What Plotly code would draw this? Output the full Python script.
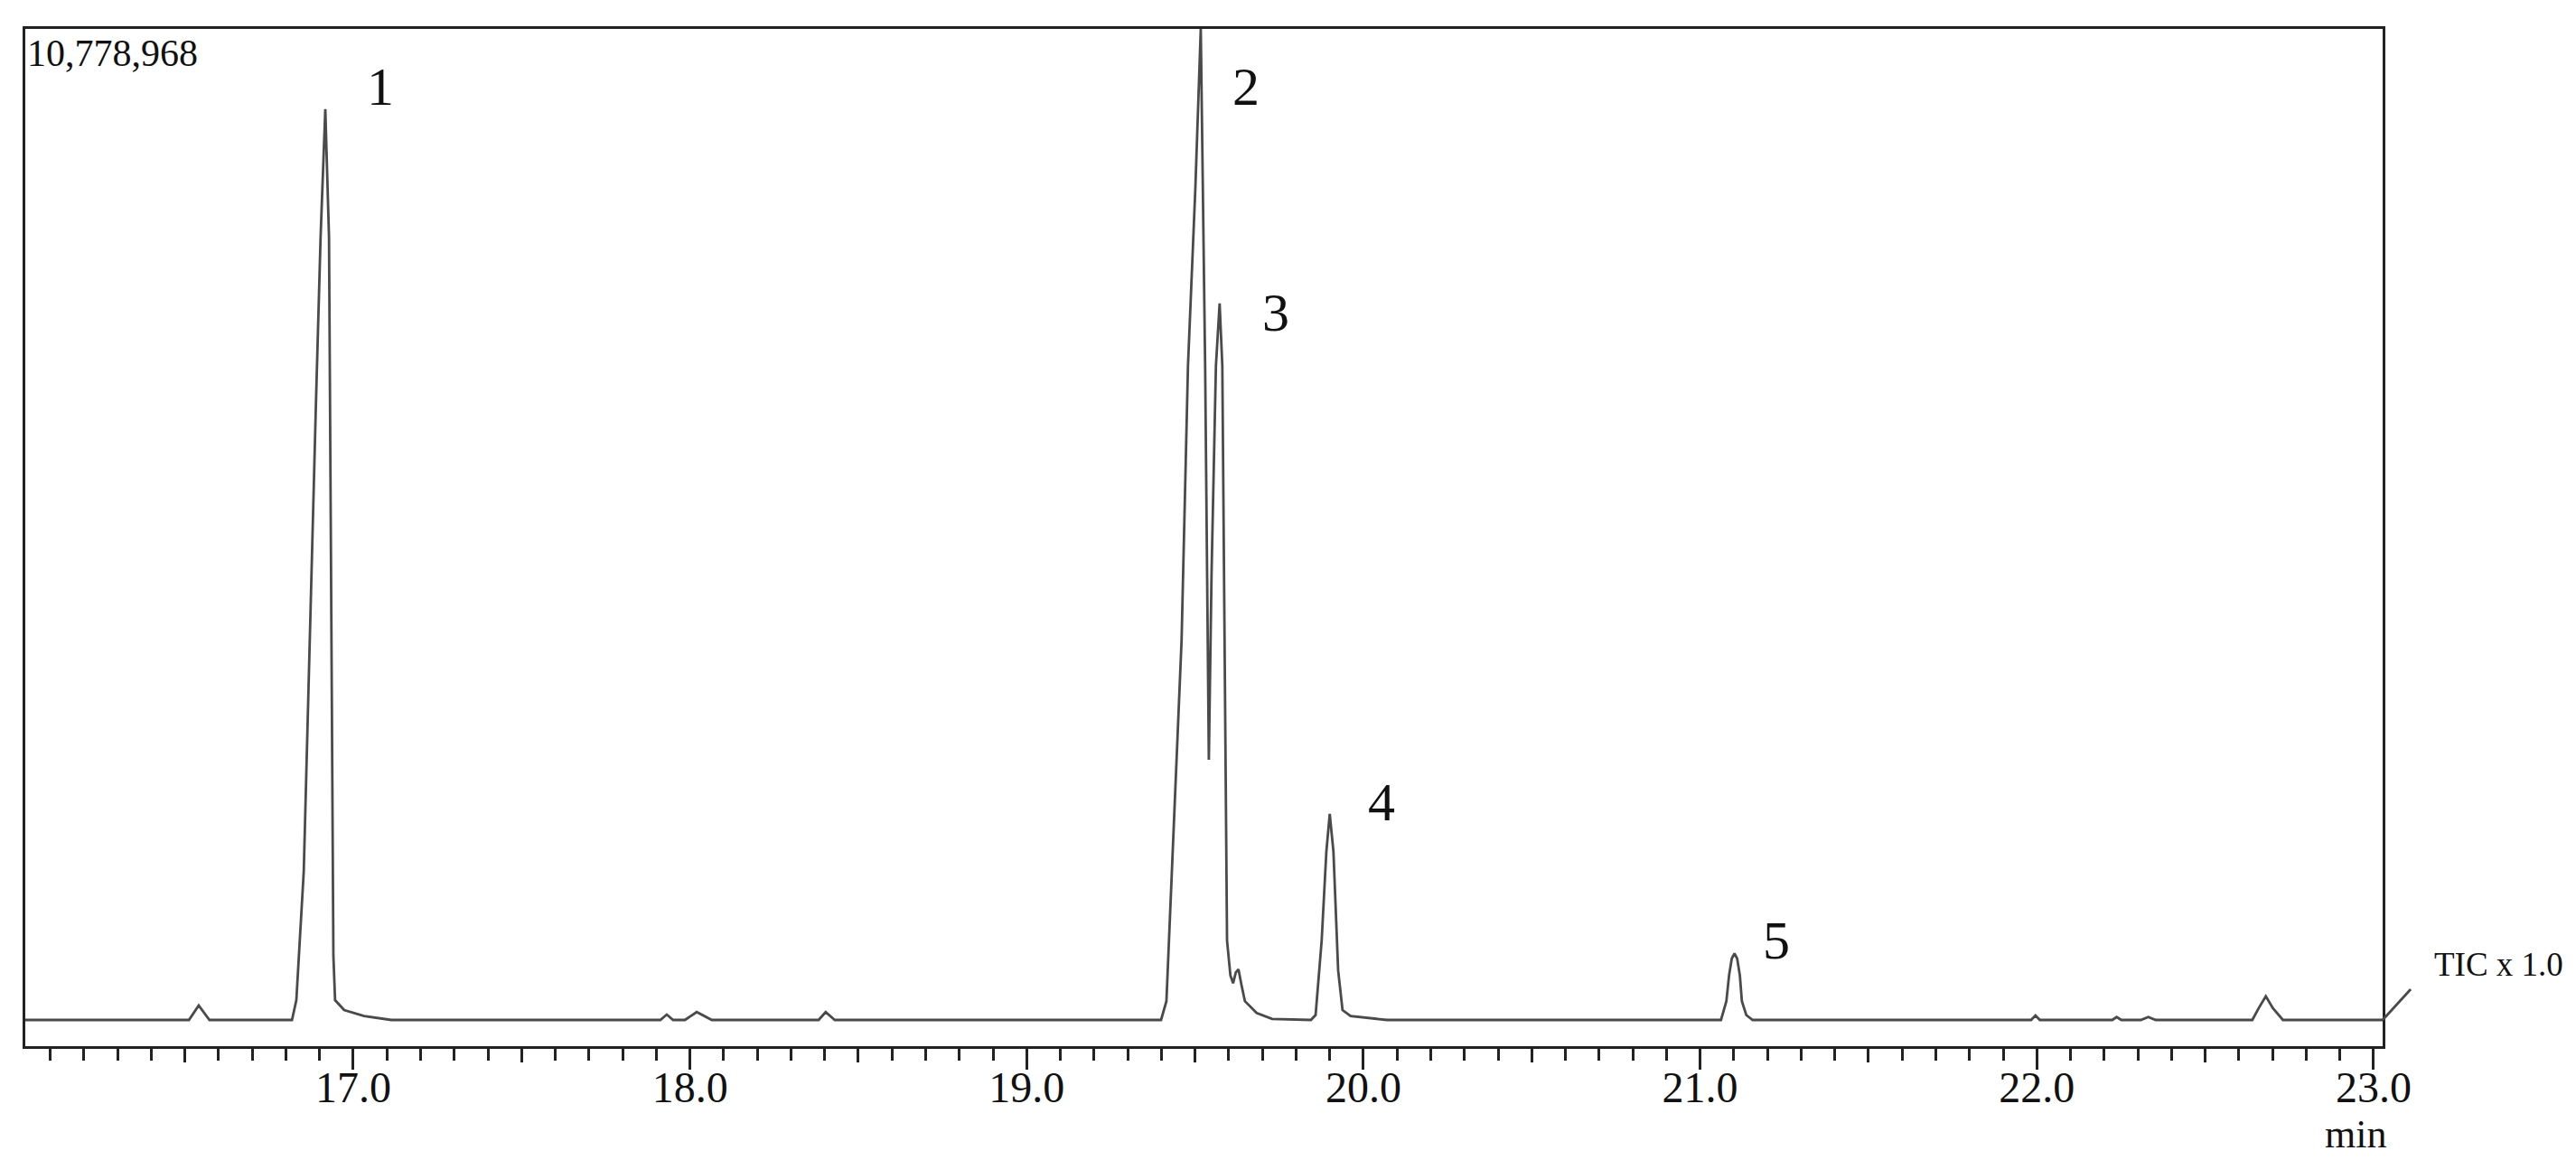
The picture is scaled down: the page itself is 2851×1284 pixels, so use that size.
import plotly.graph_objects as go

# full-scale value printed in the corner of the chromatogram
full_scale = 10778968

# retention time (min) and TIC intensity of the trace
time_min = [
    16.026, 16.512, 16.541, 16.573,
    16.818, 16.831, 16.853, 16.875, 16.889, 16.903, 16.917, 16.928, 16.936, 16.941, 16.946, 16.973, 17.032, 17.113,
    17.912, 17.931, 17.950, 17.985, 18.020, 18.065,
    18.382, 18.403, 18.430,
    19.399, 19.415, 19.460, 19.479, 19.501, 19.517,
    19.530, 19.541, 19.549, 19.562, 19.573, 19.581, 19.587, 19.595,
    19.605, 19.613, 19.621, 19.629, 19.638, 19.648, 19.683, 19.729,
    19.844, 19.858, 19.876, 19.890, 19.900, 19.911, 19.925, 19.938, 19.962, 20.070,
    21.062, 21.078, 21.086, 21.094, 21.102, 21.110, 21.118, 21.124, 21.137, 21.156,
    21.983, 21.996, 22.009,
    22.224, 22.237, 22.251, 22.309, 22.331, 22.353,
    22.640, 22.659, 22.680, 22.701, 22.731,
    23.027,
]
intensity = [
    0, 0, 157000, 0,
    0, 215600, 1616800, 4850500, 6683000, 8515400, 9905900, 8515400, 4311600, 700600, 215600, 107800, 43100, 0,
    0, 59300, 0, 0, 86200, 0,
    0, 86200, 0,
    0, 204800, 4128300, 7114100, 9054300, 10778968,
    7114100, 2829500, 4850500, 7114100, 7793200, 7114100, 4096000, 862300,
    485100, 398800, 517400, 549700, 377300, 204800, 75500, 10800,
    0, 53900, 862300, 1832400, 2242000, 1832400, 538900, 107800, 43100, 0,
    0, 204800, 485100, 668300, 722200, 668300, 485100, 204800, 53900, 0,
    0, 48500, 0,
    0, 32300, 0, 0, 32300, 0,
    0, 129300, 258700, 129300, 0,
    0,
]

# peak numbers and where their labels sit
peak_labels = ["1", "2", "3", "4", "5"]
label_time = [17.08, 19.65, 19.74, 20.053, 21.226]
label_intensity = [10153800, 10153800, 7696200, 2371400, 862300]

# axis
x_range = [16.026, 23.027]
y_range = [-284900, full_scale]
major_ticks = [17.0, 18.0, 19.0, 20.0, 21.0, 22.0, 23.0]
major_text = ["17.0", "18.0", "19.0", "20.0", "21.0", "22.0", "23.0"]
half_ticks = [16.5, 17.5, 18.5, 19.5, 20.5, 21.5, 22.5]

serif = "Liberation Serif"
ink = "#222222"
trace_col = "#4a4a4a"

fig = go.Figure()

fig.add_trace(
    go.Scatter(
        x=time_min,
        y=intensity,
        mode="lines",
        line=dict(color=trace_col, width=2.8),
        hoverinfo="skip",
        showlegend=False,
    )
)

# invisible trace so the second x axis (half-minute ticks) gets drawn
fig.add_trace(
    go.Scatter(
        x=[time_min[0]],
        y=[intensity[0]],
        xaxis="x2",
        mode="markers",
        marker=dict(opacity=0),
        hoverinfo="skip",
        showlegend=False,
    )
)

# peak numbers
for txt, t, v in zip(peak_labels, label_time, label_intensity):
    fig.add_annotation(
        x=t, y=v, text=txt, showarrow=False,
        xanchor="center", yanchor="middle",
        font=dict(family=serif, size=60, color="#111111"),
    )

fig.add_annotation(
    xref="paper", yref="paper", x=0.0, y=0.976, text=f"{full_scale:,}",
    showarrow=False, xanchor="left", yanchor="middle",
    font=dict(family=serif, size=42, color="#111111"),
)
fig.add_annotation(
    xref="paper", yref="paper", x=1.021, y=0.08, text="TIC x 1.0",
    showarrow=False, xanchor="left", yanchor="middle",
    font=dict(family=serif, size=37, color="#111111"),
)
fig.add_annotation(
    xref="paper", yref="paper", x=0.9885, y=-0.087, text="min",
    showarrow=False, xanchor="center", yanchor="middle",
    font=dict(family=serif, size=44, color="#111111"),
)

# little slash where the trace leaves the frame
fig.add_shape(
    type="line", xref="paper", yref="paper",
    x0=1.0, y0=0.0258, x1=1.0119, y1=0.056,
    line=dict(color=trace_col, width=2.8),
)

fig.update_layout(
    width=2851,
    height=1284,
    margin=dict(l=20, r=222, t=24, b=134),
    paper_bgcolor="white",
    plot_bgcolor="white",
    showlegend=False,
    xaxis=dict(
        range=x_range,
        tickmode="array",
        tickvals=major_ticks,
        ticktext=major_text,
        ticks="outside",
        ticklen=23,
        tickwidth=2.5,
        tickcolor=ink,
        ticklabelstandoff=-22,
        tickfont=dict(family=serif, size=48, color="#111111"),
        minor=dict(ticks="outside", dtick=0.1, tick0=16.0, ticklen=13,
                   tickwidth=2.5, tickcolor=ink, showgrid=False),
        showline=True,
        mirror=True,
        linecolor=ink,
        linewidth=3,
        showgrid=False,
        zeroline=False,
    ),
    xaxis2=dict(
        overlaying="x",
        matches="x",
        side="bottom",
        anchor="y",
        tickmode="array",
        tickvals=half_ticks,
        ticks="outside",
        ticklen=17,
        tickwidth=2.5,
        tickcolor=ink,
        showticklabels=False,
        showline=False,
        showgrid=False,
        zeroline=False,
    ),
    yaxis=dict(
        range=y_range,
        showticklabels=False,
        ticks="",
        showline=True,
        mirror=True,
        linecolor=ink,
        linewidth=3,
        showgrid=False,
        zeroline=False,
    ),
)

fig.write_html("out.html")
